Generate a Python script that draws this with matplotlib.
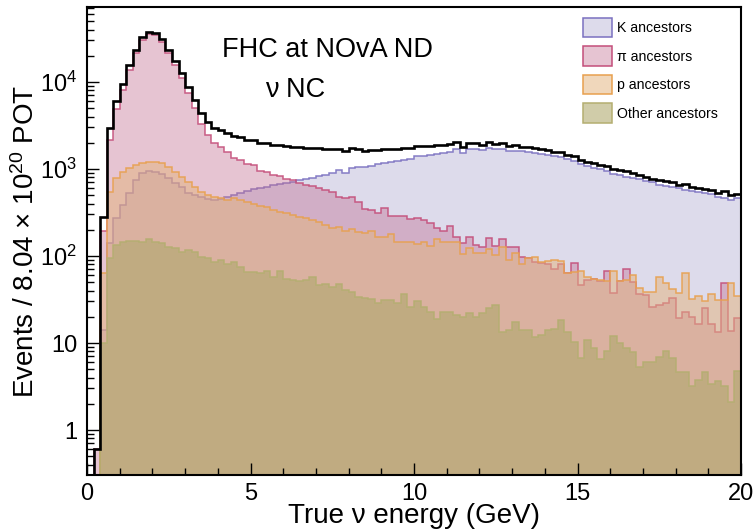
import numpy as np
import matplotlib
matplotlib.use('Agg')
import matplotlib.pyplot as plt
from matplotlib.patches import Patch
from matplotlib.ticker import FixedLocator, FixedFormatter, NullFormatter

plt.rcParams['font.family'] = ['Liberation Sans', 'DejaVu Sans']
plt.rcParams['mathtext.fontset'] = 'custom'
plt.rcParams['mathtext.rm'] = 'Liberation Sans'
plt.rcParams['mathtext.it'] = 'Liberation Sans:italic'
plt.rcParams['mathtext.bf'] = 'Liberation Sans:bold'

# ---------------- data (events per 0.2 GeV bin, 0-20 GeV) ----------------
energy_edges = np.round(np.arange(0, 20.0001, 0.2), 1)

k_ancestors = [
    0, 0, 14, 140, 271, 385, 525, 748, 892, 957,
    932, 877, 782, 697, 615, 534, 502, 472, 452, 440,
    448, 481, 502, 534, 564, 584, 600, 626, 649, 673,
    697, 715, 748, 775, 790, 830, 860, 908, 975, 908,
    1035, 1060, 1050, 1090, 1150, 1170, 1210, 1250, 1280, 1300,
    1400, 1420, 1460, 1480, 1530, 1550, 1698, 1514, 1690, 1710,
    1653, 1727, 1700, 1690, 1630, 1620, 1600, 1580, 1530, 1500,
    1460, 1400, 1380, 1300, 1250, 1150, 1080, 1040, 1000, 960,
    880, 860, 820, 780, 760, 720, 700, 660, 640, 620,
    600, 580, 560, 545, 530, 510, 480, 470, 440, 460]

pi_ancestors = [
    0, 0.6, 193, 2150, 4930, 8100, 13800, 21400, 30300, 35400,
    34700, 29000, 21400, 15700, 11000, 7400, 5000, 3250, 2430, 1990,
    1800, 1580, 1350, 1280, 1130, 1100, 960, 920, 845, 825,
    760, 740, 690, 660, 640, 600, 570, 548, 472, 460,
    472, 421, 350, 340, 309, 353, 288, 290, 285, 266,
    270, 260, 237, 211, 194, 221, 167, 140, 167, 134,
    128, 160, 129, 156, 128, 126, 98, 94, 86, 84,
    82, 70, 82, 63, 83, 46, 53, 55, 52, 67,
    38, 52, 70, 50, 37, 36, 26, 27, 29, 33,
    19.3, 23, 20, 16.7, 25, 16.4, 13.5, 49, 13.8, 19.3]

p_ancestors = [
    0, 0, 63, 548, 782, 932, 1018, 1112, 1183, 1213,
    1190, 1162, 1064, 932, 816, 715, 626, 548, 502, 481,
    460, 440, 460, 440, 421, 396, 376, 363, 338, 323,
    309, 296, 283, 271, 260, 245, 230, 210, 217, 194,
    203, 190, 182, 194, 164, 164, 179, 146, 146, 146,
    137, 146, 131, 156, 146, 146, 146, 105, 123, 107,
    107, 120, 103, 128, 90, 107, 82, 94, 98, 86,
    88, 90, 88, 63, 65.5, 67, 57, 55, 53, 51.5,
    67, 52, 53, 60, 43, 39, 39, 58, 49, 42,
    38, 64, 32, 35, 30, 37, 31, 31.5, 49, 34.5]

other_ancestors = [
    0, 0, 10, 94, 134, 144, 149, 149, 144, 157,
    144, 140, 128, 122, 112, 117, 112, 98, 96, 86,
    90, 82, 86, 75, 66, 66, 63, 68, 58, 68,
    55, 53, 52, 53, 58, 46, 48, 44, 48, 41,
    39, 34, 33, 32, 29, 31, 31, 29, 37, 26,
    30, 26, 23, 19, 23, 23, 21, 20, 22, 20,
    22, 25, 27, 13.5, 14, 17.6, 14, 14, 11.8, 12.4,
    14.1, 14.4, 18.3, 13.4, 10.3, 6.8, 10.8, 8.7, 6.6, 8.2,
    11.9, 9.9, 8.8, 7.9, 5.3, 6.0, 6.0, 6.9, 8.1, 6.8,
    4.6, 4.7, 3.2, 3.8, 4.6, 3.4, 3.7, 3.2, 2.1, 4.8]

series_labels = ['K ancestors', '\u03c0 ancestors', 'p ancestors', 'Other ancestors']

# ---------------- style ----------------
fill_rgb = [(170, 165, 207), (193, 108, 143), (228, 180, 126), (174, 167, 108)]
fill_alpha = [0.40, 0.40, 0.52, 0.58]
line_rgb = [(122, 112, 192), (196, 78, 122), (232, 160, 78), (180, 174, 112)]

def c(rgb, a=1.0):
    return (rgb[0] / 255, rgb[1] / 255, rgb[2] / 255, a)

fig = plt.figure(figsize=(7.55, 5.31), dpi=100)
ax = fig.add_axes([87 / 755, (531 - 475) / 531, 654 / 755, 468 / 531])

ymin, ymax = 0.304, 72800
floor = 1e-3

series = [k_ancestors, pi_ancestors, p_ancestors, other_ancestors]
for vals, frgb, fa, lrgb in zip(series, fill_rgb, fill_alpha, line_rgb):
    v = np.asarray(vals, dtype=float)
    v = np.where(v > 0, v, floor)
    ax.stairs(v, energy_edges, baseline=floor, fill=True,
              facecolor=c(frgb, fa), edgecolor='none', linewidth=0)
    ax.stairs(v, energy_edges, baseline=floor, fill=False,
              edgecolor=c(lrgb, 0.9), linewidth=1.1)

total = np.sum([np.asarray(s, dtype=float) for s in series], axis=0)
total = np.where(total > 0, total, floor)
ax.stairs(total, energy_edges, baseline=floor, fill=False,
          edgecolor='black', linewidth=1.9)

ax.set_yscale('log')
ax.set_xlim(0, 20)
ax.set_ylim(ymin, ymax)

# ticks
ax.xaxis.set_major_locator(FixedLocator([0, 5, 10, 15, 20]))
ax.xaxis.set_major_formatter(FixedFormatter(['0', '5', '10', '15', '20']))
ax.xaxis.set_minor_locator(FixedLocator(list(range(0, 21))))
ax.yaxis.set_major_locator(FixedLocator([1, 10, 100, 1000, 10000]))
ax.yaxis.set_major_formatter(FixedFormatter(['1', '10', r'$10^{2}$', r'$10^{3}$', r'$10^{4}$']))
minor_y = [d * k for d in [0.1, 1, 10, 100, 1000, 10000] for k in range(2, 10)
           if ymin <= d * k <= ymax]
ax.yaxis.set_minor_locator(FixedLocator(minor_y))
ax.yaxis.set_minor_formatter(NullFormatter())
ax.tick_params(which='both', direction='in', top=False, right=False,
               width=1.0, colors='black', labelsize=17)
ax.tick_params(which='major', length=8.5)
ax.tick_params(which='minor', length=5)
ax.tick_params(axis='y', which='major', pad=7)
ax.tick_params(axis='x', which='major', pad=6)

for sp in ax.spines.values():
    sp.set_linewidth(1.5)

ax.set_xlabel('True \u03bd energy (GeV)', fontsize=20)
ax.xaxis.set_label_coords(0.5, -0.060)
ax.set_ylabel(r'Events / 8.04 $\times$ 10$^{20}$ POT', fontsize=20)
ax.yaxis.set_label_coords(-0.072, 0.5)

ax.text(0.206, 0.893, 'FHC at NOvA ND', transform=ax.transAxes,
        fontsize=19.5, ha='left', va='baseline')
ax.text(0.272, 0.808, '\u03bd NC', transform=ax.transAxes,
        fontsize=19.5, ha='left', va='baseline')

handles = [Patch(facecolor=c(f, a), edgecolor=c(l), linewidth=1.1)
           for f, a, l in zip(fill_rgb, fill_alpha, line_rgb)]
fig.legend(handles, series_labels, loc='upper left',
           bbox_to_anchor=(583 / 755, 1 - 18 / 531), frameon=False,
           fontsize=10.2, handlelength=2.04, handleheight=1.7,
           labelspacing=0.66, handletextpad=0.35, borderpad=0, borderaxespad=0)

fig.savefig('out.png', dpi=100)
